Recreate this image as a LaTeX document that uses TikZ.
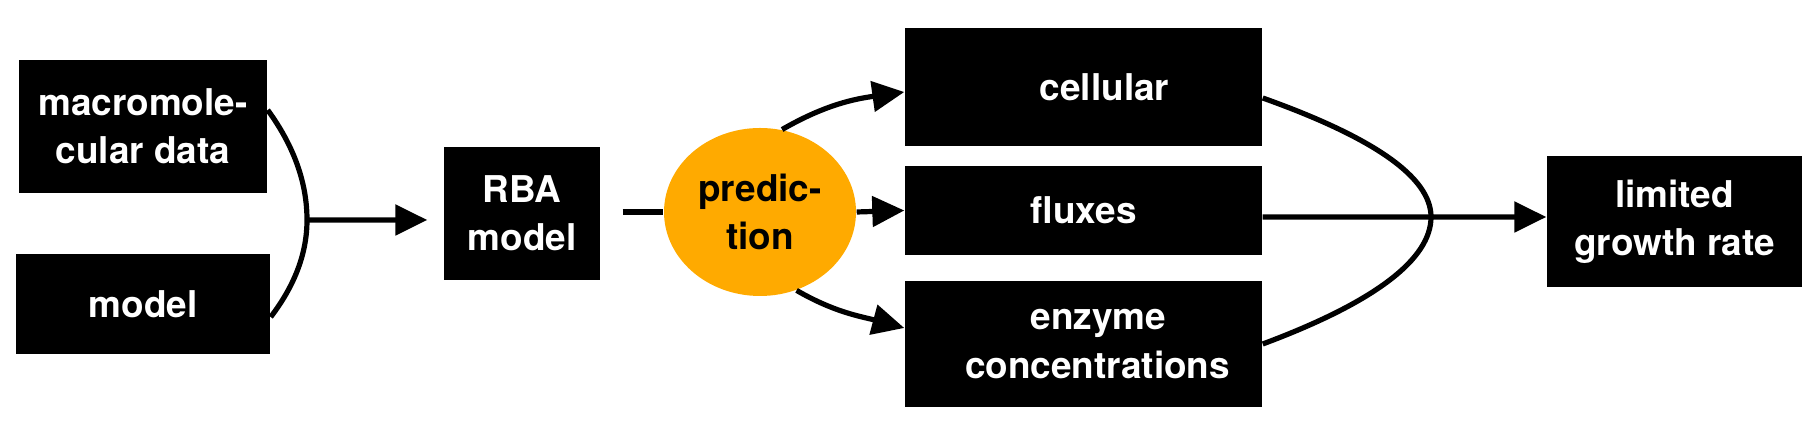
\documentclass[tikz,border=0pt]{standalone}
\usepackage{fontspec}
\setsansfont{TeX Gyre Heros}
\usepackage{tikz}
\usetikzlibrary{arrows.meta,shapes.geometric}
\definecolor{predorange}{RGB}{255,170,0}

\begin{document}
\begin{tikzpicture}[
        box/.style={fill=black, text=white, align=center, inner sep=0pt,
            font=\sffamily\bfseries\fontsize{10.5}{13.7}\selectfont},
        predbox/.style={ellipse, fill=predorange, text=black, align=center, inner sep=0pt,
            font=\sffamily\bfseries\fontsize{10.5}{13.7}\selectfont},
        conn/.style={line width=0.052cm},
        arr/.style={conn, -{Triangle[length=0.32cm, width=0.3cm]}}
    ]
        \useasboundingbox (0,0) rectangle (18.17,4.31);
        % inputs and model
        \node[box, minimum width=2.48cm, minimum height=1.33cm] (macro) at (1.43,3.045) {macromole-\\cular data};
        \node[box, minimum width=2.54cm, minimum height=1.00cm] (model) at (1.43,1.27) {model};
        \node[box, minimum width=1.56cm, minimum height=1.33cm] (rba) at (5.22,2.175) {RBA\\model};
        \node[predbox, minimum width=1.92cm, minimum height=1.68cm] (pred) at (7.60,2.19) {predic-\\tion};
        % predicted quantities
        \node[box, minimum width=3.57cm, minimum height=1.18cm] (cellular) at (10.835,3.44) {\hspace*{0.42cm}cellular};
        \node[box, minimum width=3.57cm, minimum height=0.89cm] (fluxes) at (10.835,2.205) {fluxes};
        \node[box, minimum width=3.57cm, minimum height=1.26cm] (enzyme) at (10.835,0.87) {\hspace*{0.3cm}enzyme\\\hspace*{0.28cm}concentrations};
        \node[box, minimum width=2.55cm, minimum height=1.31cm] (limited) at (16.745,2.095) {limited\\growth rate};

        \coordinate (j1) at (3.07,2.11);
        \coordinate (j2) at (14.31,2.14);

        % joining the inputs
        \draw[conn] ([yshift=0.165cm]macro.east) .. controls +(0.267,-0.367) and +(0,0.367) .. (j1)
            .. controls +(0,-0.323) and +(0.247,0.323) .. ([yshift=-0.13cm]model.east);
        \draw[arr] (j1) -- ([xshift=-0.16cm,yshift=-0.065cm]rba.west);
        \draw[conn] ([xshift=0.22cm,yshift=0.015cm]rba.east) -- (pred.west);

        % prediction outputs
        \draw[arr] (pred.75) to[out=30,in=188] ([yshift=-0.05cm]cellular.west);
        \draw[arr] (pred.east) -- (fluxes.west);
        \draw[arr] (pred.-65) to[out=-30,in=165] ([yshift=0.16cm]enzyme.west);

        % joining the outputs
        \draw[conn] ([yshift=-0.11cm]cellular.east) .. controls +(1.113,-0.397) and +(0,0.397) .. (j2)
            .. controls +(0,-0.42) and +(1.127,0.42) .. (enzyme.east);
        \draw[arr] ([yshift=-0.065cm]fluxes.east) -- ([yshift=0.045cm]limited.west);
    \end{tikzpicture}
\end{document}
